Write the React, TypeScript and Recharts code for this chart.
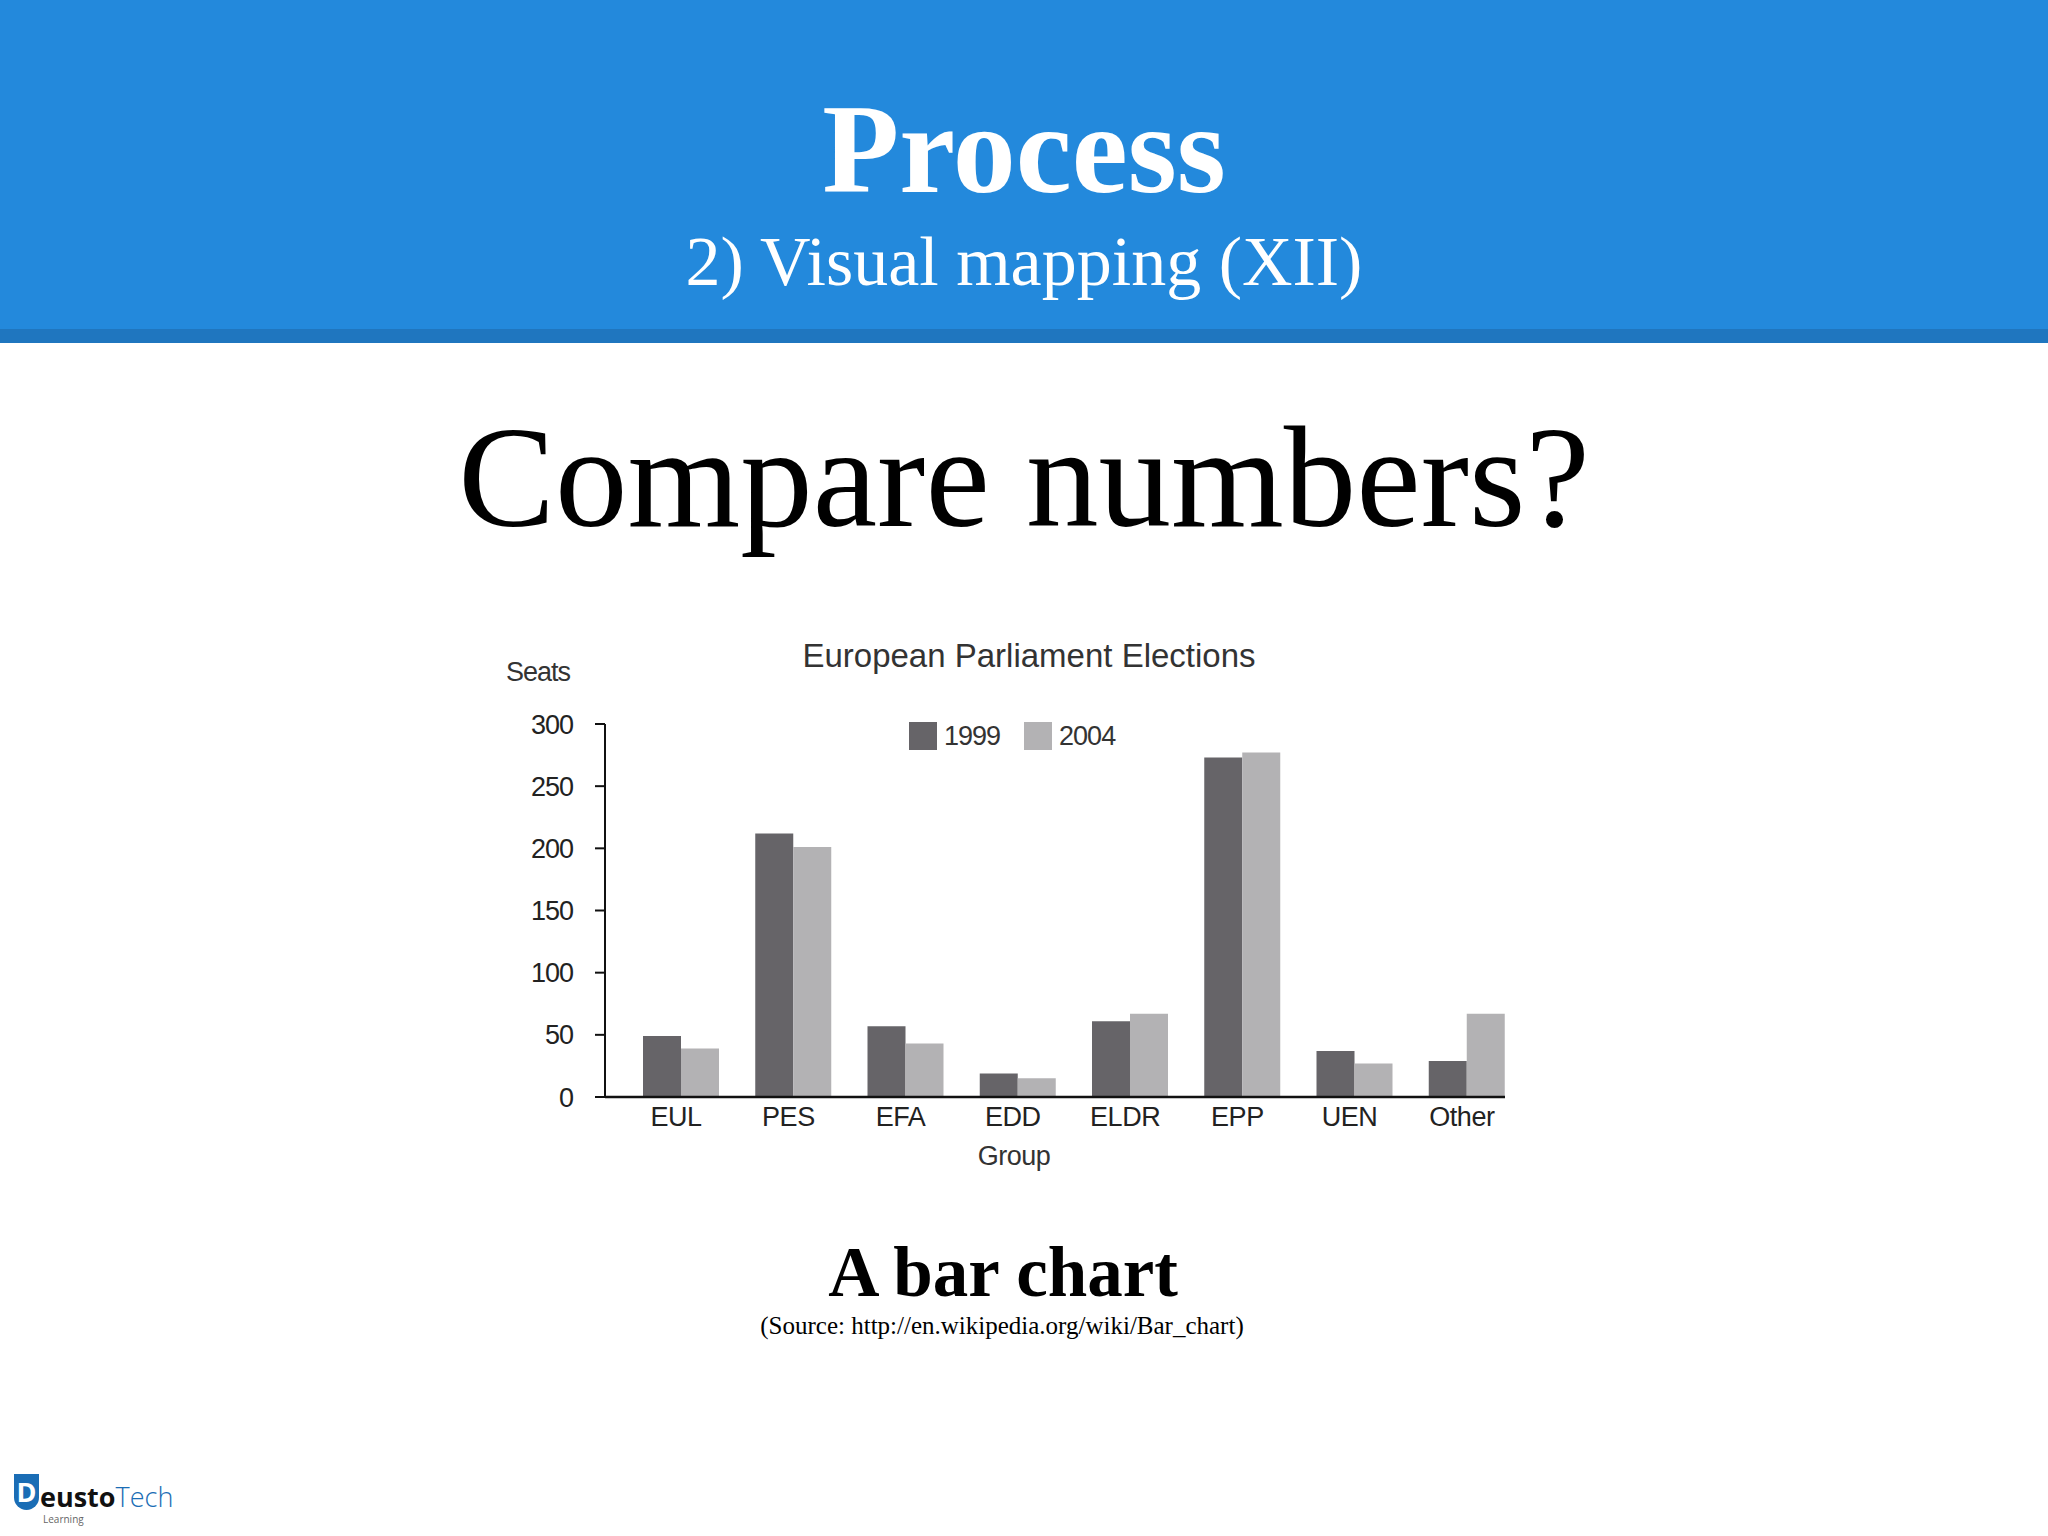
import { BarChart, Bar, XAxis, YAxis, Legend } from "recharts";

const groups = ["EUL", "PES", "EFA", "EDD", "ELDR", "EPP", "UEN", "Other"];
const seats1999 = [49, 212, 57, 19, 61, 273, 37, 29];
const seats2004 = [39, 201, 43, 15, 67, 277, 27, 67];
const seatTicks = [0, 50, 100, 150, 200, 250, 300];

const data = groups.map((g, i) => ({
  group: g,
  y1999: seats1999[i],
  y2004: seats2004[i],
}));

const serif = "'Liberation Serif', 'DejaVu Serif', serif";
const sans = "'Liberation Sans', Arial, sans-serif";

const CHART_TOP = 600;

function LegendBox(props: any) {
  const items = props.payload || [];
  return (
    <div
      style={{
        display: "flex",
        alignItems: "center",
        fontFamily: sans,
        fontSize: 27,
        letterSpacing: -1,
        color: "#333",
        lineHeight: 1,
      }}
    >
      {items.map((it: any) => (
        <div
          key={it.value}
          style={{ display: "flex", alignItems: "center", marginRight: 24 }}
        >
          <span
            style={{
              display: "inline-block",
              width: 28,
              height: 28,
              background: it.color,
              marginRight: 7,
            }}
          />
          <span>{it.value}</span>
        </div>
      ))}
    </div>
  );
}

export default function App() {
  return (
    <div
      style={{
        position: "absolute",
        left: 0,
        top: 0,
        width: 2048,
        height: 1536,
        background: "#fff",
        overflow: "hidden",
      }}
    >
      {/* header band */}
      <div
        style={{
          position: "absolute",
          left: 0,
          top: 0,
          width: 2048,
          height: 329,
          background: "#2389dc",
        }}
      />
      <div
        style={{
          position: "absolute",
          left: 0,
          top: 329,
          width: 2048,
          height: 14,
          background: "#1f76bf",
        }}
      />
      <div
        style={{
          position: "absolute",
          left: 0,
          top: 87,
          width: 2048,
          textAlign: "center",
          fontFamily: serif,
          fontWeight: 700,
          fontSize: 126,
          lineHeight: 1,
          color: "#fff",
        }}
      >
        Process
      </div>
      <div
        style={{
          position: "absolute",
          left: 0,
          top: 227,
          width: 2048,
          textAlign: "center",
          fontFamily: serif,
          fontSize: 70,
          lineHeight: 1,
          color: "#fff",
        }}
      >
        2) Visual mapping (XII)
      </div>

      <div
        style={{
          position: "absolute",
          left: 0,
          top: 405,
          width: 2048,
          textAlign: "center",
          fontFamily: serif,
          fontSize: 145,
          lineHeight: 1,
          color: "#000",
        }}
      >
        Compare numbers?
      </div>

      {/* chart */}
      <div style={{ position: "absolute", left: 0, top: CHART_TOP }}>
        <BarChart
          width={2048}
          height={640}
          data={data}
          margin={{ top: 124, right: 543, bottom: 63, left: 525 }}
          barGap={0}
        >
          <XAxis
            dataKey="group"
            height={80}
            padding={{ left: 20, right: -18 }}
            tickLine={false}
            tickMargin={4}
            axisLine={{ stroke: "#111", strokeWidth: 2.5 }}
            tick={{ fontFamily: sans, fontSize: 27, fill: "#222", letterSpacing: -0.5, dx: -5 }}
            interval={0}
            label={{
              value: "Group",
              position: "insideBottom",
              offset: 12,
              dx: -41,
              style: { fontFamily: sans, fontSize: 27, fill: "#333", letterSpacing: -0.5 },
            }}
          />
          <YAxis
            width={80}
            domain={[0, 300]}
            ticks={seatTicks}
            tickSize={10}
            tickMargin={22}
            axisLine={{ stroke: "#111", strokeWidth: 2 }}
            tickLine={{ stroke: "#111", strokeWidth: 2 }}
            tick={{ fontFamily: sans, fontSize: 27, fill: "#222", letterSpacing: -1 }}
          />
          <Legend
            content={<LegendBox />}
            layout="horizontal"
            align="center"
            verticalAlign="middle"
            wrapperStyle={{ top: 722 - CHART_TOP, left: 909, width: "auto" }}
          />
          <Bar
            dataKey="y1999"
            name="1999"
            fill="#666468"
            barSize={38}
            isAnimationActive={false}
          />
          <Bar
            dataKey="y2004"
            name="2004"
            fill="#b3b2b4"
            barSize={38}
            isAnimationActive={false}
          />
        </BarChart>
      </div>

      <div
        style={{
          position: "absolute",
          left: 0,
          top: 639,
          width: 2058,
          textAlign: "center",
          fontFamily: sans,
          fontSize: 33,
          lineHeight: 1,
          color: "#333",
        }}
      >
        European Parliament Elections
      </div>
      <div
        style={{
          position: "absolute",
          left: 506,
          top: 659,
          fontFamily: sans,
          fontSize: 27,
          letterSpacing: -1,
          lineHeight: 1,
          color: "#333",
        }}
      >
        Seats
      </div>

      <div
        style={{
          position: "absolute",
          left: 0,
          top: 1237,
          width: 2006,
          textAlign: "center",
          fontFamily: serif,
          fontWeight: 700,
          fontSize: 71,
          lineHeight: 1,
          color: "#000",
        }}
      >
        A bar chart
      </div>
      <div
        style={{
          position: "absolute",
          left: 0,
          top: 1313,
          width: 2004,
          textAlign: "center",
          fontFamily: serif,
          fontSize: 25,
          lineHeight: 1,
          color: "#000",
        }}
      >
        (Source: http://en.wikipedia.org/wiki/Bar_chart)
      </div>

      {/* logo */}
      <div
        style={{
          position: "absolute",
          left: 14,
          top: 1474,
          display: "flex",
          alignItems: "flex-end",
          fontFamily: "'Open Sans', sans-serif",
          fontSize: 27,
          lineHeight: 1,
        }}
      >
        <span
          style={{
            display: "inline-block",
            width: 25,
            height: 36,
            background: "#1a6db5",
            color: "#fff",
            fontWeight: 700,
            textAlign: "center",
            lineHeight: "36px",
            borderRadius: "0 0 13px 13px",
          }}
        >
          D
        </span>
        <span style={{ fontWeight: 700, color: "#111", marginLeft: 1 }}>eusto</span>
        <span style={{ color: "#1a6db5", fontWeight: 300 }}>Tech</span>
      </div>
      <div
        style={{
          position: "absolute",
          left: 43,
          top: 1512,
          fontFamily: "'Open Sans', sans-serif",
          fontSize: 10,
          color: "#666",
        }}
      >
        Learning
      </div>
    </div>
  );
}
